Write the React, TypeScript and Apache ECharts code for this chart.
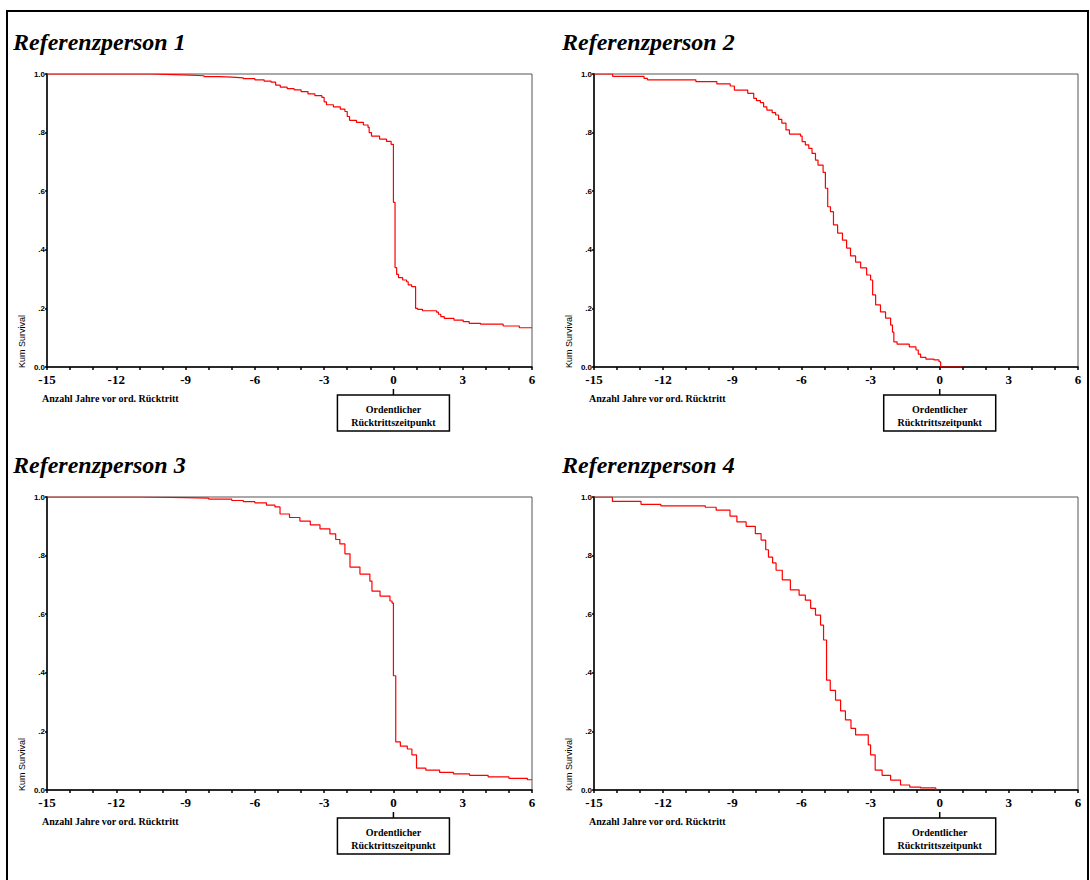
import React, { useEffect, useRef } from "react";
import * as echarts from "echarts";

const panelTitles = ["Referenzperson 1", "Referenzperson 2", "Referenzperson 3", "Referenzperson 4"];
const xMin = -15;
const xMax = 6;
const xStep = 3;
const yTickLabels: Record<string, string> = { "0": "0.0", "0.2": ".2", "0.4": ".4", "0.6": ".6", "0.8": ".8", "1": "1.0" };
const yAxisTitle = "Kum Survival";
const xAxisTitle = "Anzahl Jahre vor ord. Rücktritt";
const markerLines = ["Ordentlicher", "Rücktrittszeitpunkt"];
const markerX = 0;

const survival1: [number, number][] = [
  [-15, 1.0], [-10.5, 0.998], [-9.5, 0.996], [-8.8, 0.994], [-8.2, 0.991], [-7.5, 0.989], [-7.0, 0.987],
  [-6.5, 0.984], [-6.0, 0.98], [-5.6, 0.976], [-5.3, 0.972], [-5.1, 0.962], [-4.9, 0.955], [-4.6, 0.95],
  [-4.3, 0.946], [-4.0, 0.94], [-3.7, 0.932], [-3.4, 0.926], [-3.1, 0.92], [-3.0, 0.905], [-2.9, 0.895],
  [-2.6, 0.888], [-2.3, 0.88], [-2.1, 0.872], [-2.0, 0.855], [-1.9, 0.842], [-1.6, 0.835], [-1.3, 0.826],
  [-1.1, 0.818], [-1.05, 0.8], [-0.95, 0.788], [-0.6, 0.778], [-0.3, 0.77], [-0.1, 0.76], [0.0, 0.562],
  [0.07, 0.339], [0.14, 0.316], [0.22, 0.305], [0.4, 0.297], [0.57, 0.291], [0.64, 0.28], [0.79, 0.274],
  [0.96, 0.2], [1.05, 0.197], [1.26, 0.192], [1.87, 0.187], [1.95, 0.18], [2.05, 0.172], [2.2, 0.166],
  [2.62, 0.16], [3.02, 0.155], [3.28, 0.149], [3.77, 0.146], [4.75, 0.14], [5.45, 0.134], [6.0, 0.134],
];

const survival2: [number, number][] = [
  [-15, 1.0], [-14.19, 0.992], [-12.83, 0.985], [-12.68, 0.98], [-10.58, 0.974], [-9.67, 0.966], [-9.09, 0.959],
  [-8.91, 0.945], [-8.33, 0.934], [-8.07, 0.917], [-7.95, 0.909], [-7.78, 0.902], [-7.64, 0.888], [-7.5, 0.877],
  [-7.27, 0.868], [-7.12, 0.86], [-6.99, 0.845], [-6.85, 0.832], [-6.67, 0.809], [-6.52, 0.795], [-6.04, 0.788],
  [-5.97, 0.769], [-5.83, 0.758], [-5.68, 0.746], [-5.54, 0.729], [-5.39, 0.706], [-5.28, 0.689], [-5.06, 0.664],
  [-4.96, 0.61], [-4.86, 0.547], [-4.74, 0.53], [-4.61, 0.485], [-4.43, 0.457], [-4.22, 0.433], [-4.04, 0.406],
  [-3.87, 0.379], [-3.65, 0.358], [-3.43, 0.338], [-3.17, 0.314], [-3.0, 0.297], [-2.91, 0.246], [-2.78, 0.212],
  [-2.57, 0.188], [-2.35, 0.167], [-2.13, 0.143], [-2.05, 0.119], [-1.99, 0.086], [-1.85, 0.078], [-1.32, 0.069],
  [-1.03, 0.058], [-0.93, 0.044], [-0.83, 0.033], [-0.6, 0.027], [-0.25, 0.024], [-0.03, 0.018], [0.04, 0.0],
  [1.0, 0.0],
];

const survival3: [number, number][] = [
  [-15, 1.0], [-11, 0.998], [-9, 0.996], [-8, 0.993], [-7, 0.988], [-6.5, 0.984], [-6, 0.98], [-5.5, 0.972],
  [-5.13, 0.966], [-4.91, 0.942], [-4.5, 0.93], [-4.05, 0.918], [-3.6, 0.905], [-3.18, 0.891], [-2.75, 0.874],
  [-2.5, 0.855], [-2.32, 0.84], [-2.1, 0.806], [-1.88, 0.761], [-1.45, 0.737], [-1.02, 0.713], [-0.93, 0.679],
  [-0.58, 0.662], [-0.15, 0.645], [-0.06, 0.638], [0.0, 0.39], [0.1, 0.164], [0.3, 0.15], [0.6, 0.14],
  [0.8, 0.12], [1.0, 0.075], [1.4, 0.068], [2.0, 0.06], [2.6, 0.055], [3.3, 0.05], [4.1, 0.045], [5.0, 0.04],
  [5.8, 0.035], [6, 0.035],
];

const survival4: [number, number][] = [
  [-15, 1.0], [-14.2, 0.985], [-12.96, 0.975], [-12.1, 0.97], [-10.17, 0.965], [-9.7, 0.955], [-9.1, 0.935],
  [-8.8, 0.915], [-8.4, 0.9], [-8.0, 0.875], [-7.75, 0.853], [-7.55, 0.82], [-7.43, 0.795], [-7.25, 0.775],
  [-7.1, 0.75], [-6.83, 0.717], [-6.48, 0.683], [-6.1, 0.665], [-5.83, 0.648], [-5.6, 0.62], [-5.39, 0.597],
  [-5.17, 0.563], [-5.04, 0.512], [-4.91, 0.375], [-4.75, 0.34], [-4.52, 0.307], [-4.3, 0.27], [-4.09, 0.239],
  [-3.85, 0.21], [-3.65, 0.188], [-3.1, 0.154], [-3.0, 0.12], [-2.8, 0.068], [-2.5, 0.05], [-2.13, 0.034],
  [-1.7, 0.017], [-1.3, 0.01], [-0.83, 0.007], [-0.17, 0.0],
];

const seriesData = [survival1, survival2, survival3, survival4];

const SERIF = '"Liberation Serif", "Times New Roman", serif';
const SANS = '"Liberation Sans", Arial, sans-serif';

const colLeft = [47, 594];
const colWidth = [485, 484];
const rowTop = [74, 497];
const plotH = 293;

export default function App() {
  const ref = useRef<HTMLDivElement>(null);
  useEffect(() => {
    if (!ref.current) return;
    const chart = echarts.init(ref.current, undefined, { renderer: "svg" });
    const grids: any[] = [];
    const xAxes: any[] = [];
    const yAxes: any[] = [];
    const series: any[] = [];
    const graphics: any[] = [];

    graphics.push({
      type: "rect",
      shape: { x: 7, y: 11, width: 1081, height: 900 },
      style: { fill: "none", stroke: "#000", lineWidth: 2 },
      silent: true,
    });

    for (let i = 0; i < 4; i++) {
      const c = i % 2;
      const r = Math.floor(i / 2);
      const left = colLeft[c];
      const top = rowTop[r];
      const w = colWidth[c];
      grids.push({ left, top, width: w, height: plotH, show: true, borderColor: "#555", borderWidth: 1, containLabel: false });
      xAxes.push({
        type: "value",
        gridIndex: i,
        min: xMin,
        max: xMax,
        interval: xStep,
        axisLine: { show: true, onZero: false, lineStyle: { color: "#000", width: 1.5 } },
        axisTick: { show: true, length: 3, lineStyle: { color: "#000", width: 1.5 } },
        minorTick: { show: true, splitNumber: 3, length: 3, lineStyle: { color: "#000", width: 1.5 } },
        splitLine: { show: false },
        axisLabel: { color: "#000", fontFamily: SERIF, fontSize: 13, fontWeight: "bold", margin: 6 },
      });
      yAxes.push({
        type: "value",
        gridIndex: i,
        min: 0,
        max: 1,
        interval: 0.2,
        axisLine: { show: true, onZero: false, lineStyle: { color: "#000", width: 1.5 } },
        axisTick: { show: true, length: 2, lineStyle: { color: "#000", width: 1.5 } },
        splitLine: { show: false },
        axisLabel: {
          color: "#000",
          fontFamily: SANS,
          fontSize: 8,
          fontWeight: "bold",
          margin: 2,
          formatter: (v: number) => yTickLabels[String(Math.round(v * 10) / 10)] ?? String(v),
        },
      });
      series.push({
        type: "line",
        xAxisIndex: i,
        yAxisIndex: i,
        data: seriesData[i],
        step: "end",
        showSymbol: false,
        symbol: "none",
        lineStyle: { color: "#ff0000", width: 1.2 },
        silent: true,
      });

      const titleX = c === 0 ? 13 : 562;
      graphics.push({
        type: "text",
        x: titleX,
        y: top - 32,
        style: {
          text: panelTitles[i],
          font: `italic bold 24px ${SERIF}`,
          fill: "#000",
          verticalAlign: "middle",
          align: "left",
        },
      });
      const bottom = top + plotH;
      graphics.push({
        type: "text",
        x: left - 25,
        y: bottom + 1,
        rotation: Math.PI / 2,
        style: {
          text: yAxisTitle,
          font: `9px ${SANS}`,
          fill: "#000",
          align: "left",
          verticalAlign: "middle",
        },
      });
      graphics.push({
        type: "text",
        x: left - 5,
        y: bottom + 31,
        style: {
          text: xAxisTitle,
          font: `bold 10px ${SERIF}`,
          fill: "#000",
          align: "left",
          verticalAlign: "middle",
        },
      });
      const zeroX = left + ((markerX - xMin) / (xMax - xMin)) * w;
      graphics.push({
        type: "line",
        shape: { x1: zeroX, y1: bottom + 22, x2: zeroX, y2: bottom + 28 },
        style: { stroke: "#000", lineWidth: 1.5 },
      });
      graphics.push({
        type: "rect",
        shape: { x: zeroX - 56, y: bottom + 28, width: 112, height: 36 },
        style: { fill: "#fff", stroke: "#000", lineWidth: 1.5 },
      });
      graphics.push({
        type: "text",
        x: zeroX,
        y: bottom + 42,
        style: { text: markerLines[0], font: `bold 10px ${SERIF}`, fill: "#000", align: "center", verticalAlign: "middle" },
      });
      graphics.push({
        type: "text",
        x: zeroX,
        y: bottom + 55,
        style: { text: markerLines[1], font: `bold 10px ${SERIF}`, fill: "#000", align: "center", verticalAlign: "middle" },
      });
    }

    chart.setOption({
      animation: false,
      backgroundColor: "#fff",
      grid: grids,
      xAxis: xAxes,
      yAxis: yAxes,
      series,
      graphic: graphics,
    });
    return () => chart.dispose();
  }, []);
  return <div ref={ref} style={{ position: "absolute", left: 0, top: 0, width: 1090, height: 880 }} />;
}
